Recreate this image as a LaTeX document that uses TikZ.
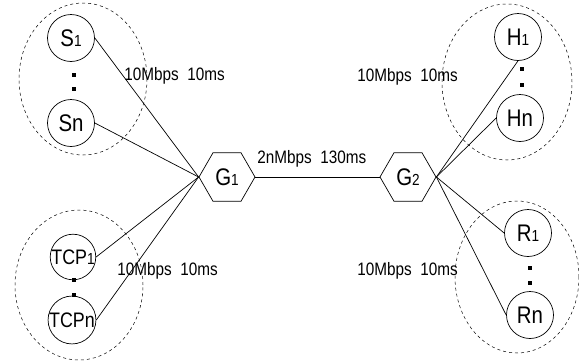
\documentclass[tikz,border=0pt]{standalone}
\usepackage{fontspec}
\setmainfont{Liberation Sans}[FakeStretch=0.85]
\usetikzlibrary{shapes.geometric}
\newcommand{\idx}[1]{{\fontsize{16}{16}\selectfont #1}}

\begin{document}
\begin{tikzpicture}[x=1pt, y=-1pt, line width=0.7pt,
    host/.style={circle, draw, minimum size=47pt, inner sep=0pt, font=\fontsize{24}{24}\selectfont},
    gate/.style={regular polygon, regular polygon sides=6, draw, minimum size=56pt, inner sep=0pt, font=\fontsize{24}{24}\selectfont},
    group/.style={ellipse, draw, dashed, line width=0.5pt, inner sep=0pt},
    dotmark/.style={fill, minimum size=4pt, inner sep=0pt},
    linklabel/.style={anchor=west, inner sep=0pt, font=\fontsize{18}{18}\selectfont}]
    \useasboundingbox (0,0) rectangle (579,362);
    % groups
    \node[group, minimum width=128pt, minimum height=152pt] (gs) at (83,79) {};
    \node[group, minimum width=128pt, minimum height=150pt] (gt) at (79,285) {};
    \node[group, minimum width=130pt, minimum height=156pt] (gh) at (507,82) {};
    \node[group, minimum width=124pt, minimum height=152pt] (gr) at (517,277) {};
    % hosts
    \node[host] (s1) at (71,38) {S\idx{1}};
    \node[host] (sn) at (71,123) {Sn};
    \node[host, minimum size=45pt, font=\fontsize{21}{21}\selectfont] (tcp1) at (73,257) {TCP\idx{1}};
    \node[host, minimum size=45pt, font=\fontsize{21}{21}\selectfont] (tcpn) at (72,320) {TCPn};
    \node[host] (h1) at (518,37) {H\idx{1}};
    \node[host] (hn) at (520,118) {Hn};
    \node[host] (r1) at (528,233) {R\idx{1}};
    \node[host] (rn) at (530,315) {Rn};
    \node[dotmark] (sd1) at (74,75) {};
    \node[dotmark] (sd2) at (74,89) {};
    \node[dotmark] (td1) at (74,280) {};
    \node[dotmark] (td2) at (74,295) {};
    \node[dotmark] (hd1) at (522,69) {};
    \node[dotmark] (hd2) at (522,85) {};
    \node[dotmark] (rd1) at (530,268) {};
    \node[dotmark] (rd2) at (530,283) {};
    % gateways
    \node[gate] (g1) at (227,177) {G\idx{1}};
    \node[gate] (g2) at (408,177) {G\idx{2}};
    % links
    \draw (s1.east) -- (g1.west);
    \draw (sn.east) -- (g1.west);
    \draw (tcp1.east) -- (g1.west);
    \draw (tcpn.east) -- (g1.west);
    \draw (g1.east) -- (g2.west);
    \draw (g2.east) -- (h1.south);
    \draw (g2.east) -- (hn.west);
    \draw (g2.east) -- (r1.west);
    \draw (g2.east) -- (rn.west);
    \node[linklabel] (ls) at (124,76) {10Mbps\ \ 10ms};
    \node[linklabel] (lt) at (117,271) {10Mbps\ \ 10ms};
    \node[linklabel] (lh) at (357,77) {10Mbps\ \ 10ms};
    \node[linklabel] (lr) at (357,271) {10Mbps\ \ 10ms};
    \node[linklabel] (lg) at (257,159) {2nMbps\ \ 130ms};
\end{tikzpicture}
\end{document}
